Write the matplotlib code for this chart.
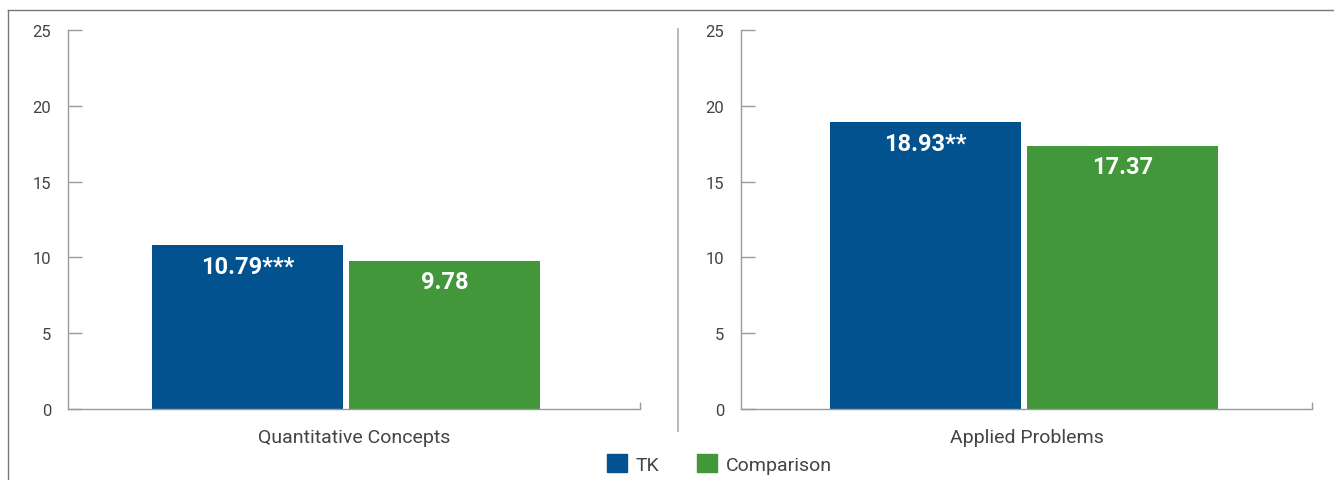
import matplotlib
matplotlib.use("Agg")
import matplotlib.pyplot as plt
from matplotlib.patches import Patch
from matplotlib.lines import Line2D

categories = ["Quantitative Concepts", "Applied Problems"]
series_names = ["TK", "Comparison"]
tk_values = [10.79, 18.93]
comparison_values = [9.78, 17.37]
tk_labels = ["10.79***", "18.93**"]
comparison_labels = ["9.78", "17.37"]
y_ticks = [0, 5, 10, 15, 20, 25]

BLUE = "#02528F"
GREEN = "#42973A"
TEXT = "#444444"
AXIS = "#9a9a9a"

plt.rcParams['font.family'] = ['Roboto', 'DejaVu Sans']

W, H = 1334, 481
fig = plt.figure(figsize=(W / 100, H / 100), dpi=100)

panels = [(68, 640), (741, 1312)]
centers = [-0.014, -0.004]
bw = 0.334
gap = 0.011
for i, (x0, x1) in enumerate(panels):
    ax = fig.add_axes([x0 / W, (H - 410) / H, (x1 - x0) / W, 379 / H])
    xc = centers[i]
    b1 = ax.bar([xc - bw / 2 - gap / 2], [tk_values[i]], width=bw, color=BLUE, zorder=2)
    b2 = ax.bar([xc + bw / 2 + gap / 2], [comparison_values[i]], width=bw, color=GREEN, zorder=2)
    for bars, labs in ((b1, tk_labels), (b2, comparison_labels)):
        for r in bars:
            ax.annotate(labs[i], (r.get_x() + r.get_width() / 2, r.get_height()),
                        xytext=(0, -7), textcoords="offset points",
                        ha="center", va="top", color="white",
                        fontsize=17, fontweight="bold")
    ax.set_xlim(-0.5, 0.5)
    ax.set_ylim(0, 25)
    ax.set_yticks(y_ticks)
    ax.set_xticks([0.5])
    ax.set_xticklabels([""])
    ax.tick_params(axis="y", direction="in", length=10, width=1, color=AXIS,
                   labelcolor=TEXT, labelsize=12, pad=12)
    ax.tick_params(axis="x", direction="in", length=5, width=1, color=AXIS)
    for s in ("top", "right"):
        ax.spines[s].set_visible(False)
    for s in ("left", "bottom"):
        ax.spines[s].set_color(AXIS)
        ax.spines[s].set_linewidth(1)
    ax.set_xlabel(categories[i], fontsize=14, color=TEXT, labelpad=10)
    ax.patch.set_alpha(0)

# outer frame (top and left) and separator
fig.add_artist(Line2D([8 / W, 1.0], [1 - 11 / H, 1 - 11 / H], color="#777777", lw=1))
fig.add_artist(Line2D([8 / W, 8 / W], [1 - 11 / H, 0], color="#777777", lw=1))
fig.add_artist(Line2D([678 / W, 678 / W], [1 - 30 / H, 1 - 432 / H], color="#aaaaaa", lw=1.2))

handles = [Patch(facecolor=BLUE, edgecolor=BLUE), Patch(facecolor=GREEN, edgecolor=GREEN)]
fig.legend(handles, series_names, loc="center", bbox_to_anchor=(719.5 / W, (H - 465) / H),
           ncol=2, frameon=False, fontsize=14, handlelength=1.0, handleheight=1.0,
           handletextpad=0.45, columnspacing=1.95, labelcolor=TEXT)

fig.savefig("out.png", dpi=100)
